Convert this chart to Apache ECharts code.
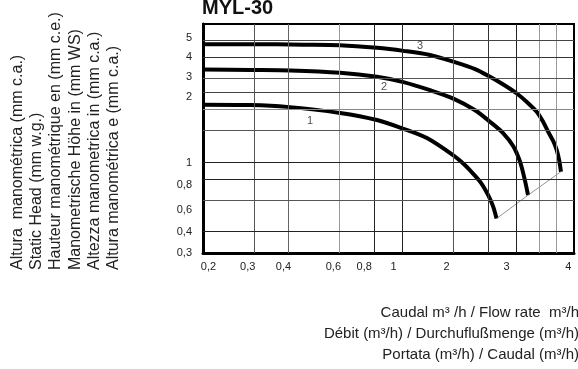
<!DOCTYPE html>
<html><head><meta charset="utf-8">
<script src="https://cdn.jsdelivr.net/npm/echarts@6/dist/echarts.min.js"></script>
<style>html,body{margin:0;padding:0;background:#fff}#c{width:578px;height:369px}</style>
</head><body><div id="c"></div>
<script>
// ---- texts ----
const chartTitle = 'MYL-30';
const yTitleLines = ['Altura  manométrica (mm c.a.)','Static Head (mm w.g.)','Hauteur manométrique en (mm c.e.)','Manometrische Höhe in (mm WS)','Altezza manometrica in (mm c.a.)','Altura manométrica e (mm c.a.)'];
const xTitleLines = ['Caudal m³ /h / Flow rate  m³/h','Débit (m³/h) / Durchuflußmenge (m³/h)','Portata (m³/h) / Caudal (m³/h)'];

// ---- axes (log scales) ----
const xMin = 0.2, xMax = 4;
const yMin = 0.3, yMax = 6.19;
const xGrid = [0.3,0.4,0.6,0.8,1,1.5,2,2.5,3,3.5];
const xGridColors = ['#555','#666','#999','#222','#222','#555','#333','#222','#999','#999'];
const yGrid = [0.4,0.6,0.8,1,1.5,2,2.5,3,4,5];
const yGridColors = ['#222','#555','#222','#222','#555','#888','#444','#555','#333','#444'];
const xTickLabels = ['0,2','0,3','0,4','0,6','0,8','1','2','3','4'];
const xTickLabelAt = [0.209,0.287,0.383,0.573,0.735,0.931,1.43,2.32,3.82];
const yTickLabels = ['0,3','0,4','0,6','0,8','1','2','3','4','5'];
const yTickLabelAt = [0.3,0.396,0.528,0.735,0.992,2.35,3.07,3.98,5.16];

// ---- curves: flow (m3/h) and head (mm c.a.) ----
const curve1Q = [0.2, 0.293, 0.394, 0.605, 0.815, 1.009, 1.22, 1.51, 1.66, 1.77, 1.89, 2.00, 2.08, 2.14];
const curve1H = [2.13, 2.12, 2.07, 1.91, 1.74, 1.55, 1.37, 1.09, 0.957, 0.857, 0.755, 0.644, 0.557, 0.473];
const curve2Q = [0.2, 0.293, 0.405, 0.605, 0.815, 1.009, 1.251, 1.51, 1.80, 2.03, 2.26, 2.45, 2.59, 2.69, 2.76];
const curve2H = [3.39, 3.37, 3.35, 3.25, 3.08, 2.87, 2.58, 2.31, 1.98, 1.70, 1.46, 1.23, 0.997, 0.786, 0.644];
const curve3Q = [0.2, 0.293, 0.45, 0.605, 0.815, 1.009, 1.251, 1.51, 1.80, 2.03, 2.26, 2.52, 2.74, 2.96, 3.11, 3.24, 3.38, 3.48, 3.55, 3.60];
const curve3H = [4.74, 4.74, 4.71, 4.68, 4.52, 4.34, 4.11, 3.76, 3.41, 3.08, 2.78, 2.47, 2.20, 1.94, 1.71, 1.50, 1.32, 1.17, 1.02, 0.879];
const endLineQ = [2.14, 2.76, 3.60];
const endLineH = [0.473, 0.644, 0.879];
const curveNames = ['1','2','3'];
const curveLabelQ = [0.475, 0.863, 1.154];
const curveLabelH = [1.71, 2.69, 4.62];

const L = Math.log10;
const pts = (q, h) => q.map((v, i) => [L(v), L(h[i])]);
const nearest = (arr, v) => { let b = 0; arr.forEach((a, i) => { if (Math.abs(L(a) - v) < Math.abs(L(arr[b]) - v)) b = i; }); return b; };

const font = '"Liberation Sans", Arial, sans-serif';
const chart = echarts.init(document.getElementById('c'));

const graphics = [];
graphics.push({ type: 'text', x: 202, y: 8.5, style: { text: chartTitle, font: 'bold 20px ' + font, fill: '#111', align: 'left', verticalAlign: 'middle', textAlign: 'left', textVerticalAlign: 'middle' } });
yTitleLines.forEach((t, i) => graphics.push({ type: 'text', x: 17.5 + i * 19.2, y: 270, rotation: Math.PI / 2,
  style: { text: t, font: '16px ' + font, fill: '#222', align: 'left', verticalAlign: 'middle', textAlign: 'left', textVerticalAlign: 'middle' } }));
xTitleLines.forEach((t, i) => graphics.push({ type: 'text', x: 579, y: 313 + i * 21,
  style: { text: t, font: '15px ' + font, fill: '#222', align: 'right', verticalAlign: 'middle', textAlign: 'right', textVerticalAlign: 'middle' } }));

const gridLines = xGrid.map((v, i) => ({ xAxis: L(v), lineStyle: { color: xGridColors[i], width: 1, type: 'solid' } }))
  .concat(yGrid.map((v, i) => ({ yAxis: L(v), lineStyle: { color: yGridColors[i], width: 1, type: 'solid' } })));

const curveStyle = { color: '#000', width: 4, cap: 'butt' };
chart.setOption({
  animation: false,
  backgroundColor: '#fff',
  grid: { left: 203, right: 4, top: 24, bottom: 116, show: true, borderColor: '#000', borderWidth: 2, outerBoundsMode: 'none', containLabel: false },
  xAxis: {
    type: 'value', min: L(xMin), max: L(xMax),
    axisLine: { show: true, onZero: false, lineStyle: { color: '#000', width: 3 } },
    axisTick: { show: false },
    splitLine: { show: false },
    axisLabel: { customValues: xTickLabelAt.map(L), margin: 8, fontSize: 11, fontFamily: font, color: '#222',
      formatter: v => xTickLabels[nearest(xTickLabelAt, v)] }
  },
  yAxis: {
    type: 'value', min: L(yMin), max: L(yMax),
    axisLine: { show: true, onZero: false, lineStyle: { color: '#000', width: 3 } },
    axisTick: { show: false },
    splitLine: { show: false },
    axisLabel: { customValues: yTickLabelAt.map(L), margin: 11, fontSize: 11, fontFamily: font, color: '#222',
      formatter: v => yTickLabels[nearest(yTickLabelAt, v)] }
  },
  series: [
    { type: 'line', data: [], silent: true,
      markLine: { silent: true, symbol: 'none', label: { show: false }, animation: false, data: gridLines } },
    { type: 'line', data: pts(curve1Q, curve1H), showSymbol: false, smooth: 0.3, lineStyle: curveStyle, z: 3 },
    { type: 'line', data: pts(curve2Q, curve2H), showSymbol: false, smooth: 0.3, lineStyle: curveStyle, z: 3 },
    { type: 'line', data: pts(curve3Q, curve3H), showSymbol: false, smooth: 0.3, lineStyle: curveStyle, z: 3 },
    { type: 'line', data: pts(endLineQ, endLineH), showSymbol: false, lineStyle: { color: '#777', width: 0.8 }, z: 3 },
    { type: 'scatter', data: pts(curveLabelQ, curveLabelH), symbolSize: 0, z: 4,
      label: { show: true, position: 'inside', fontSize: 11, fontFamily: font, color: '#222', formatter: p => curveNames[p.dataIndex] } }
  ],
  graphic: graphics
});
</script></body></html>
